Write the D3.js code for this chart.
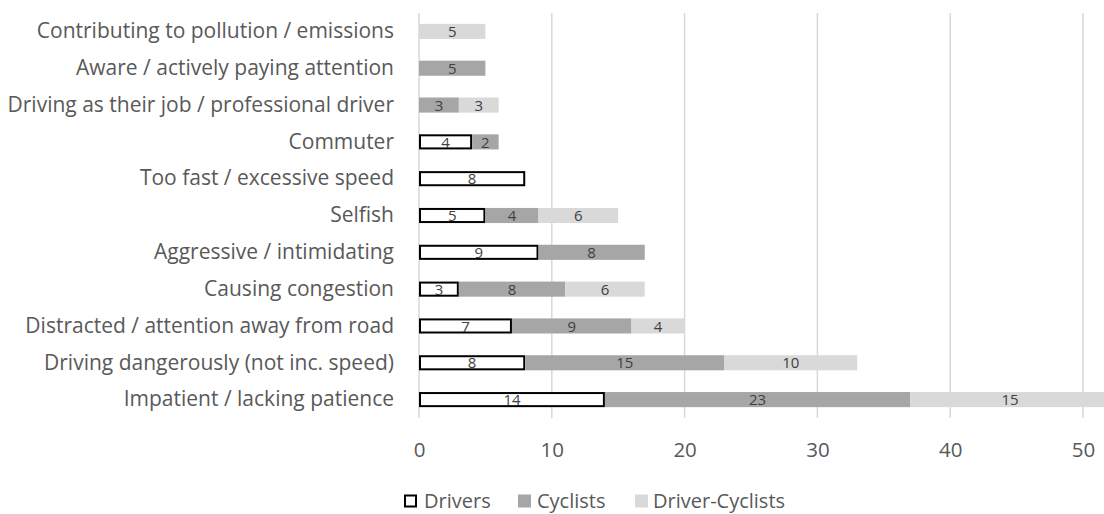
<!DOCTYPE html>
<html>
<head>
<meta charset="utf-8">
<script src="https://cdn.jsdelivr.net/npm/d3@7"></script>
<style>
  html, body { margin: 0; padding: 0; background: #ffffff; }
  svg { display: block; font-family: "Open Sans", sans-serif; }
</style>
</head>
<body>
<svg id="chart" width="1104" height="514"></svg>
<script>
// Descriptions of drivers, counted by respondent group
const categories = [
  "Contributing to pollution / emissions",
  "Aware / actively paying attention",
  "Driving as their job / professional driver",
  "Commuter",
  "Too fast / excessive speed",
  "Selfish",
  "Aggressive / intimidating",
  "Causing congestion",
  "Distracted / attention away from road",
  "Driving dangerously (not inc. speed)",
  "Impatient / lacking patience"
];
const drivers        = [0, 0, 0, 4, 8, 5, 9, 3, 7, 8, 14];
const cyclists       = [0, 5, 3, 2, 0, 4, 8, 8, 9, 15, 23];
const driverCyclists = [5, 0, 3, 0, 0, 6, 0, 6, 4, 10, 15];
const seriesNames = ["Drivers", "Cyclists", "Driver-Cyclists"];
const xTicks = [0, 10, 20, 30, 40, 50];

const FONT = "'Open Sans', sans-serif";
const svg = d3.select("#chart");
const margin = { left: 419, top: 13, bottom: 418 };

const rows = categories.map((c, i) => ({
  category: c,
  "Drivers": drivers[i],
  "Cyclists": cyclists[i],
  "Driver-Cyclists": driverCyclists[i]
}));

const layers = d3.stack().keys(seriesNames)(rows);

const x = d3.scaleLinear().domain([0, 60]).range([margin.left, margin.left + 60 * 13.28]);
const y = d3.scaleBand().domain(categories).range([margin.top, margin.bottom]).paddingInner(0.59).paddingOuter(0.295);

const styles = {
  "Drivers":         { fill: "#ffffff", stroke: "#000000", sw: 2 },
  "Cyclists":        { fill: "#a6a6a6", stroke: "none", sw: 0 },
  "Driver-Cyclists": { fill: "#d9d9d9", stroke: "none", sw: 0 }
};

// vertical gridlines
svg.append("g")
  .selectAll("line")
  .data(xTicks)
  .join("line")
  .attr("x1", d => x(d)).attr("x2", d => x(d))
  .attr("y1", margin.top).attr("y2", margin.bottom)
  .attr("stroke", "#d9d9d9")
  .attr("stroke-width", 1.5);

// stacked bars
const barH = y.bandwidth();
layers.forEach(layer => {
  const st = styles[layer.key];
  svg.append("g")
    .selectAll("rect")
    .data(layer.filter(d => d[1] - d[0] > 0))
    .join("rect")
    .attr("x", d => x(d[0]) + st.sw / 2)
    .attr("y", d => y(d.data.category) + st.sw / 2)
    .attr("width", d => x(d[1]) - x(d[0]) - st.sw)
    .attr("height", barH - st.sw)
    .attr("fill", st.fill)
    .attr("stroke", st.stroke)
    .attr("stroke-width", st.sw);
});

// segment value labels
layers.forEach(layer => {
  svg.append("g")
    .selectAll("text")
    .data(layer.filter(d => d[1] - d[0] > 0))
    .join("text")
    .attr("x", d => x((d[0] + d[1]) / 2))
    .attr("y", d => y(d.data.category) + barH / 2)
    .attr("dy", "0.38em")
    .attr("text-anchor", "middle")
    .attr("font-size", 15)
    .attr("font-family", FONT)
    .attr("fill", "#404040")
    .text(d => d[1] - d[0]);
});

// category axis
const yAxis = svg.append("g")
  .attr("transform", `translate(${margin.left},0)`)
  .call(d3.axisLeft(y).tickSize(0).tickPadding(25));
yAxis.select(".domain").remove();
yAxis.selectAll("text")
  .attr("font-size", 21)
  .attr("font-family", FONT)
  .attr("fill", "#595959");

// value axis
const xAxis = svg.append("g")
  .attr("transform", `translate(0,${margin.bottom})`)
  .call(d3.axisBottom(x).tickValues(xTicks).tickSize(0).tickPadding(39));
xAxis.select(".domain").remove();
xAxis.selectAll("text")
  .attr("font-size", 20.5)
  .attr("font-family", FONT)
  .attr("fill", "#595959")
  .attr("dy", "0");

// legend
const legendItems = [
  { name: "Drivers", sx: 404, tx: 424 },
  { name: "Cyclists", sx: 518, tx: 537 },
  { name: "Driver-Cyclists", sx: 635, tx: 653 }
];
const legend = svg.append("g").attr("transform", "translate(0,501)");
legendItems.forEach(item => {
  const st = styles[item.name];
  const inset = st.sw ? 1 : 0;
  legend.append("rect")
    .attr("x", item.sx + inset)
    .attr("y", -6.5 + inset)
    .attr("width", 13 - 2 * inset)
    .attr("height", 13 - 2 * inset)
    .attr("fill", st.fill)
    .attr("stroke", st.stroke)
    .attr("stroke-width", st.sw);
  legend.append("text")
    .attr("x", item.tx)
    .attr("y", 0)
    .attr("dy", "0.36em")
    .attr("font-size", 20)
    .attr("font-family", FONT)
    .attr("fill", "#595959")
    .text(item.name);
});
</script>
</body>
</html>
